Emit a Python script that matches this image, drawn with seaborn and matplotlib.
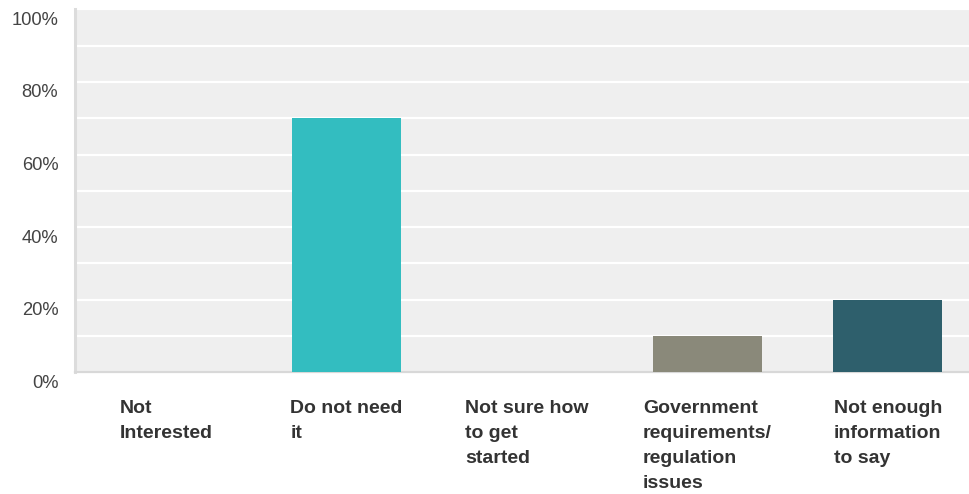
import matplotlib
matplotlib.use("Agg")
import matplotlib.pyplot as plt
import matplotlib.transforms as mtransforms
import numpy as np
import pandas as pd
import seaborn as sns

categories = ["Not\nInterested", "Do not need\nit", "Not sure how\nto get\nstarted",
              "Government\nrequirements/\nregulation\nissues", "Not enough\ninformation\nto say"]
percent = [0, 70, 0, 10, 20]
bar_colors = ["#8fc9ce", "#33bdc0", "#e0a050", "#8a897a", "#2e5f6c"]
y_ticks = [0, 20, 40, 60, 80, 100]
y_labels = ["0%", "20%", "40%", "60%", "80%", "100%"]

df = pd.DataFrame({"cat": categories, "pct": percent})

sns.set_style("white")
plt.rcParams["font.family"] = ["Liberation Sans", "DejaVu Sans"]

fig = plt.figure(figsize=(9.69, 4.94), dpi=100)
ax = fig.add_axes([75 / 969, (494 - 372.4) / 494, 1 - 75 / 969, 363 / 494])
ax.set_facecolor("#efefef")

sns.barplot(data=df, x="cat", y="pct", hue="cat", palette=bar_colors,
            width=0.604, legend=False, ax=ax, saturation=1, zorder=3,
            linewidth=0)

ax.set_xlim(-0.504, 4.45)
ax.set_ylim(0, 100)
ax.set_yticks(y_ticks)
ax.set_yticklabels(y_labels, fontsize=13.2, color="#444444")
ax.set_yticks(np.arange(10, 100, 10), minor=True)
ax.grid(True, which="both", axis="y", color="white", linewidth=1.6, zorder=1)
ax.set_axisbelow(True)
ax.tick_params(axis="y", which="both", length=0, pad=12)
ax.set_xticks([])
ax.set_xlabel("")
ax.set_ylabel("")

# labels sit a bit below their grid line in the original
off = mtransforms.ScaledTranslation(0, -9 / 100, fig.dpi_scale_trans)
for lbl in ax.get_yticklabels():
    lbl.set_transform(lbl.get_transform() + off)

for s in ["top", "right"]:
    ax.spines[s].set_visible(False)
ax.spines["left"].set_color("#dcdcdc")
ax.spines["left"].set_linewidth(2.2)
ax.spines["bottom"].set_color("#d8d8d8")
ax.spines["bottom"].set_linewidth(1.6)

trans = mtransforms.blended_transform_factory(ax.transData, ax.transAxes)
for i, name in enumerate(categories):
    ax.text(i, -0.076, name, transform=trans, ha="center", va="top",
            multialignment="left", fontsize=14, fontweight="bold",
            color="#333333", linespacing=1.62)

fig.savefig("out.png", dpi=100)
